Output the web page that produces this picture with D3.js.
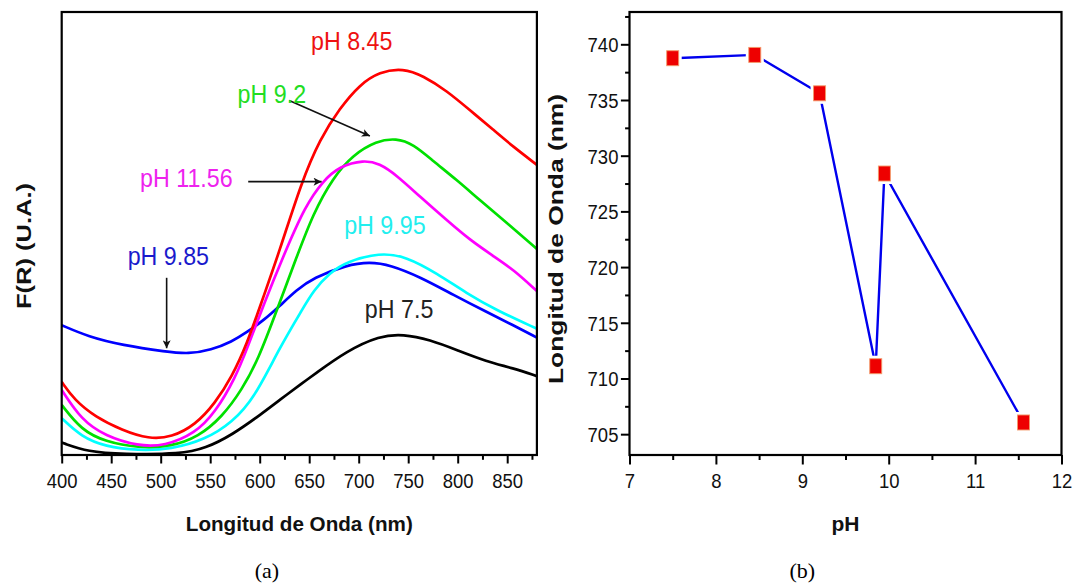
<!DOCTYPE html>
<html>
<head>
<meta charset="utf-8">
<script src="https://cdn.jsdelivr.net/npm/d3@7"></script>
<style>
  html, body { margin: 0; padding: 0; background: #fff; }
  svg { display: block; font-family: "Liberation Sans", Arial, Helvetica, sans-serif; }
</style>
</head>
<body>
<svg id="chart" width="1075" height="583"></svg>
<script>
// ---------- Panel (a): diffuse reflectance spectra, F(R) in arbitrary units ----------
// Each spectrum as [wavelength (nm), F(R)] pairs
const specPH845 = [[400,16.5],[413,12.4],[434,8.6],[461,5.6],[488,3.6],[511,4.0],[535,6.8],[555,11.7],[572,17.7],[587,25.0],[602,34.6],[620,46.0],[642,61.5],[661,71.4],[681,78.3],[701,83.6],[721,86.5],[745,87.3],[765,85.6],[789,82.2],[812,77.9],[836,73.4],[856,69.6],[880,65.5]];
const specPH92 = [[400,11.3],[420,5.6],[444,3.0],[477,1.6],[511,1.9],[538,4.1],[562,8.6],[582,14.7],[599,21.8],[617,32.5],[637,44.5],[654,54.5],[674,62.6],[694,67.7],[718,70.9],[738,71.5],[755,70.2],[775,66.4],[799,62.1],[822,57.6],[849,52.5],[880,46.5]];
const specPH1156 = [[400,14.7],[420,7.9],[444,4.3],[477,2.0],[504,2.0],[535,4.9],[555,9.6],[575,17.2],[588,24.4],[604,34.0],[625,45.5],[646,56.2],[664,61.9],[681,65.2],[705,66.6],[721,65.8],[738,63.2],[762,58.3],[789,53.0],[812,48.6],[836,44.9],[856,41.9],[880,37.0]];
const specPH995 = [[400,8.3],[420,4.1],[444,1.9],[477,1.0],[511,1.3],[545,3.5],[572,7.3],[595,13.0],[620,24.2],[644,33.2],[654,37.0],[671,41.2],[688,43.6],[721,45.7],[748,44.8],[779,41.0],[809,36.5],[839,32.7],[880,28.5]];
const specPH985 = [[400,29.3],[427,26.7],[461,24.8],[506,23.3],[528,22.8],[551,23.7],[572,25.6],[587,27.7],[605,30.6],[620,33.6],[637,37.2],[654,40.0],[688,42.9],[711,43.6],[732,42.9],[762,40.2],[796,36.1],[829,32.3],[856,29.3],[880,26.5]];
const specPH75 = [[400,2.8],[427,0.7],[461,0.2],[521,0.2],[545,1.5],[572,4.5],[602,9.3],[620,12.4],[644,16.4],[654,18.0],[688,23.5],[721,26.9],[745,27.3],[772,26.0],[799,23.7],[829,21.1],[856,19.6],[880,17.8]];

const spectra = [
  { name: "pH 7.5",   data: specPH75,   color: "#000000" },
  { name: "pH 9.85",  data: specPH985,  color: "#0000ff" },
  { name: "pH 9.95",  data: specPH995,  color: "#00ffff" },
  { name: "pH 9.2",   data: specPH92,   color: "#00e000" },
  { name: "pH 11.56", data: specPH1156, color: "#ff00ff" },
  { name: "pH 8.45",  data: specPH845,  color: "#ff0000" }
];

// Annotation labels, positioned in data units [nm, F(R)] (text start, baseline)
const labelsA = [
  { text: "pH 8.45",  at: [651.8, 91.4], color: "#ee1111" },
  { text: "pH 9.2",   at: [577.7, 79.4], color: "#22dd22" },
  { text: "pH 11.56", at: [479.1, 60.6], color: "#ee22ee" },
  { text: "pH 9.95",  at: [685.3, 50.0], color: "#22eeee" },
  { text: "pH 9.85",  at: [466.6, 42.9], color: "#1a1acc" },
  { text: "pH 7.5",   at: [706.2, 30.9], color: "#222222" }
];
// Arrows pointing at curves: [from, to] in data units
const arrowsA = [
  [[629.8, 80.0], [711.3, 72.0]],
  [[588.4, 61.7], [662.5, 61.7]],
  [[506.0, 40.0], [506.0, 24.1]]
];

const xTicksA = [400, 450, 500, 550, 600, 650, 700, 750, 800, 850];
const xMinorA = [425, 475, 525, 575, 625, 675, 725, 775, 825, 875];

// ---------- Panel (b): absorption maximum vs pH ----------
const phValues   = [7.5, 8.45, 9.2, 9.85, 9.95, 11.56];
const lambdaMax  = [738.75, 739.05, 735.6, 711.1, 728.4, 706.05];
const xTicksB = [7, 8, 9, 10, 11, 12];
const xMinorB = [7.5, 8.5, 9.5, 10.5, 11.5];
const yTicksB = [705, 710, 715, 720, 725, 730, 735, 740];
const yMinorB = [707.5, 712.5, 717.5, 722.5, 727.5, 732.5, 737.5, 742.5];

// ---------- scales ----------
const xA = d3.scaleLinear().domain([400, 880]).range([61.7, 536.9]);
const yA = d3.scaleLinear().domain([0, 100]).range([455, 12]);
const xB = d3.scaleLinear().domain([7, 12]).range([629.5, 1061.5]);
const yB = d3.scaleLinear().domain([703.13, 742.9]).range([455, 12]);

const svg = d3.select("#chart");

// Squeeze text horizontally (the typeface is set narrower than Arial)
function condense(sel, factor) {
  sel.each(function () {
    const w = this.getComputedTextLength();
    this.setAttribute("textLength", (w * factor).toFixed(2));
    this.setAttribute("lengthAdjust", "spacingAndGlyphs");
  });
}

const defs = svg.append("defs");
defs.append("clipPath").attr("id", "clipA").append("rect")
  .attr("x", xA(400)).attr("y", yA(100))
  .attr("width", xA(880) - xA(400)).attr("height", yA(0) - yA(100));
defs.append("marker").attr("id", "arrowHead")
  .attr("viewBox", "0 0 10 10").attr("refX", 10).attr("refY", 5)
  .attr("markerWidth", 10).attr("markerHeight", 8).attr("markerUnits", "userSpaceOnUse")
  .attr("orient", "auto")
  .append("path").attr("d", "M0,0 L10,5 L0,10 L2.5,5 Z").attr("fill", "#111");

// ================= Panel (a) =================
const gA = svg.append("g");
const lineA = d3.line()
  .x(d => xA(d[0])).y(d => yA(d[1]))
  .curve(d3.curveBasis);

gA.append("g").attr("clip-path", "url(#clipA)")
  .selectAll("path").data(spectra).join("path")
  .attr("d", d => lineA(d.data))
  .attr("fill", "none")
  .attr("stroke", d => d.color)
  .attr("stroke-width", 2.7)
  .attr("stroke-linejoin", "round");

// arrows
gA.selectAll("line.arrow").data(arrowsA).join("line")
  .attr("class", "arrow")
  .attr("x1", d => xA(d[0][0])).attr("y1", d => yA(d[0][1]))
  .attr("x2", d => xA(d[1][0])).attr("y2", d => yA(d[1][1]))
  .attr("stroke", "#111").attr("stroke-width", 1.6)
  .attr("marker-end", "url(#arrowHead)");

// curve labels
gA.selectAll("text.lbl").data(labelsA).join("text")
  .attr("class", "lbl")
  .attr("x", d => xA(d.at[0])).attr("y", d => yA(d.at[1]))
  .attr("fill", d => d.color)
  .attr("font-size", 25)
  .text(d => d.text)
  .call(condense, 0.93);

// x axis (bottom)
const axA = gA.append("g").attr("transform", `translate(0,${yA(0)})`);
axA.call(d3.axisBottom(xA).tickValues(xTicksA).tickSize(8.5).tickFormat(d3.format("d")));
axA.select(".domain").remove();
axA.selectAll(".tick line").attr("stroke", "#000").attr("stroke-width", 2);
axA.selectAll(".tick text")
  .attr("y", 33.3).attr("dy", null)
  .attr("font-size", 20.5).attr("fill", "#111")
  .call(condense, 0.9);
const axAm = gA.append("g").attr("transform", `translate(0,${yA(0)})`);
axAm.call(d3.axisBottom(xA).tickValues(xMinorA).tickSize(4.8).tickFormat(""));
axAm.select(".domain").remove();
axAm.selectAll(".tick line").attr("stroke", "#000").attr("stroke-width", 2);

// frame
gA.append("rect")
  .attr("x", xA(400)).attr("y", yA(100))
  .attr("width", xA(880) - xA(400)).attr("height", yA(0) - yA(100))
  .attr("fill", "none").attr("stroke", "#000").attr("stroke-width", 2.2);

// axis titles
gA.append("text")
  .attr("x", (xA(400) + xA(880)) / 2).attr("y", 531)
  .attr("text-anchor", "middle").attr("font-weight", "bold").attr("font-size", 21)
  .attr("fill", "#111")
  .attr("textLength", 227).attr("lengthAdjust", "spacingAndGlyphs")
  .text("Longitud de Onda (nm)");
gA.append("text")
  .attr("transform", "translate(30.5,246) rotate(-90)")
  .attr("text-anchor", "middle").attr("font-weight", "bold").attr("font-size", 20)
  .attr("fill", "#111")
  .attr("textLength", 126).attr("lengthAdjust", "spacingAndGlyphs")
  .text("F(R) (U.A.)");

// caption
svg.append("text")
  .attr("x", 267).attr("y", 578)
  .attr("text-anchor", "middle")
  .attr("font-family", "'Liberation Serif', 'Times New Roman', serif")
  .attr("font-size", 22).attr("fill", "#000")
  .text("(a)");

// ================= Panel (b) =================
const gB = svg.append("g");
const pts = phValues.map((p, i) => ({ ph: p, wl: lambdaMax[i] }));

gB.append("path")
  .datum(pts)
  .attr("d", d3.line().x(d => xB(d.ph)).y(d => yB(d.wl)))
  .attr("fill", "none").attr("stroke", "#0000ee").attr("stroke-width", 2.4);

const mW = 12, mH = 15;
// white halo around each marker (line stops short of the symbol)
gB.selectAll("rect.halo").data(pts).join("rect")
  .attr("class", "halo")
  .attr("x", d => xB(d.ph) - mW / 2 - 3).attr("y", d => yB(d.wl) - mH / 2 - 3)
  .attr("width", mW + 6).attr("height", mH + 6)
  .attr("fill", "#fff");
gB.selectAll("rect.mk").data(pts).join("rect")
  .attr("class", "mk")
  .attr("x", d => xB(d.ph) - mW / 2).attr("y", d => yB(d.wl) - mH / 2)
  .attr("width", mW).attr("height", mH)
  .attr("fill", "#ee0000").attr("stroke", "#f39a6a").attr("stroke-width", 0.9);

// x axis
const axB = gB.append("g").attr("transform", `translate(0,${yB.range()[0]})`);
axB.call(d3.axisBottom(xB).tickValues(xTicksB).tickSize(9.5).tickFormat(d3.format("d")));
axB.select(".domain").remove();
axB.selectAll(".tick line").attr("stroke", "#000").attr("stroke-width", 2);
axB.selectAll(".tick text")
  .attr("y", 33.3).attr("dy", null)
  .attr("font-size", 20.5).attr("fill", "#111")
  .call(condense, 0.9);
const axBm = gB.append("g").attr("transform", `translate(0,${yB.range()[0]})`);
axBm.call(d3.axisBottom(xB).tickValues(xMinorB).tickSize(5).tickFormat(""));
axBm.select(".domain").remove();
axBm.selectAll(".tick line").attr("stroke", "#000").attr("stroke-width", 2);

// y axis
const ayB = gB.append("g").attr("transform", `translate(${xB(7)},0)`);
ayB.call(d3.axisLeft(yB).tickValues(yTicksB).tickSize(8.6).tickPadding(2.5).tickFormat(d3.format("d")));
ayB.select(".domain").remove();
ayB.selectAll(".tick line").attr("stroke", "#000").attr("stroke-width", 2);
ayB.selectAll(".tick text")
  .attr("font-size", 20.5).attr("fill", "#111")
  .attr("dy", "0.36em")
  .call(condense, 0.9);
const ayBm = gB.append("g").attr("transform", `translate(${xB(7)},0)`);
ayBm.call(d3.axisLeft(yB).tickValues(yMinorB).tickSize(4.4).tickFormat(""));
ayBm.select(".domain").remove();
ayBm.selectAll(".tick line").attr("stroke", "#000").attr("stroke-width", 2);

// frame
gB.append("rect")
  .attr("x", xB(7)).attr("y", yB.range()[1])
  .attr("width", xB(12) - xB(7)).attr("height", yB.range()[0] - yB.range()[1])
  .attr("fill", "none").attr("stroke", "#000").attr("stroke-width", 2.2);

// axis titles
gB.append("text")
  .attr("x", (xB(7) + xB(12)) / 2).attr("y", 531)
  .attr("text-anchor", "middle").attr("font-weight", "bold").attr("font-size", 21)
  .attr("fill", "#111")
  .text("pH");
gB.append("text")
  .attr("transform", "translate(563,239) rotate(-90)")
  .attr("text-anchor", "middle").attr("font-weight", "bold").attr("font-size", 20)
  .attr("fill", "#111")
  .attr("textLength", 290).attr("lengthAdjust", "spacingAndGlyphs")
  .text("Longitud de Onda (nm)");

svg.append("text")
  .attr("x", xB(9)).attr("y", 578)
  .attr("text-anchor", "middle")
  .attr("font-family", "'Liberation Serif', 'Times New Roman', serif")
  .attr("font-size", 22).attr("fill", "#000")
  .text("(b)");
</script>
</body>
</html>
